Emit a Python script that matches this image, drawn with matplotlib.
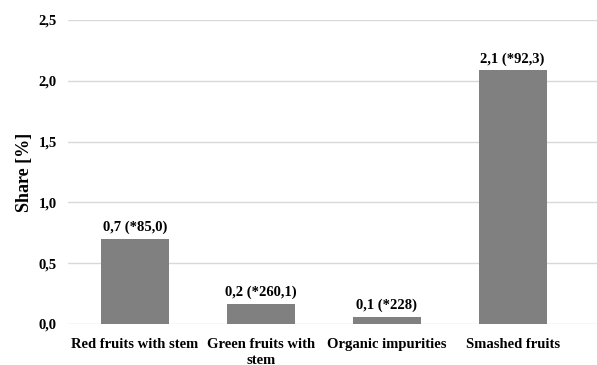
import matplotlib
matplotlib.use('Agg')
import matplotlib.pyplot as plt

categories = ['Red fruits with stem', 'Green fruits with\nstem', 'Organic impurities', 'Smashed fruits']
shares = [0.70, 0.165, 0.058, 2.085]
labels = ['0,7 (*85,0)', '0,2 (*260,1)', '0,1 (*228)', '2,1 (*92,3)']
yticks = [0.0, 0.5, 1.0, 1.5, 2.0, 2.5]
ytick_labels = ['0,0', '0,5', '1,0', '1,5', '2,0', '2,5']

plt.rcParams['font.family'] = ['Liberation Serif', 'DejaVu Serif']
plt.rcParams['font.weight'] = 'bold'

fig = plt.figure(figsize=(5.97, 3.65), dpi=100)
ax = fig.add_axes([68 / 597, 41 / 365, 529 / 597, 304 / 365])

x = range(len(categories))
ax.bar(x, shares, width=0.54, color='#808080', zorder=3)
for xi, v, lab in zip(x, shares, labels):
    ax.text(xi, v + 0.04, lab, ha='center', va='bottom', fontsize=10.5, fontweight='bold')

ax.set_xlim(-0.53, 3.67)
ax.set_ylim(0, 2.5)
ax.set_yticks(yticks)
ax.set_yticklabels(ytick_labels, fontsize=10.5, fontweight='bold')
ax.set_xticks(list(x))
ax.set_xticklabels(categories, fontsize=10.5, fontweight='bold', linespacing=1.35)
ax.tick_params(axis='x', length=0, pad=10)
ax.tick_params(axis='y', length=0, pad=8)
ax.grid(axis='y', color='#d9d9d9', linewidth=1, zorder=0)
for s in ax.spines.values():
    s.set_visible(False)
ax.set_ylabel('Share [%]', fontsize=13, fontweight='bold', labelpad=4)

fig.savefig('out.png', dpi=100)
